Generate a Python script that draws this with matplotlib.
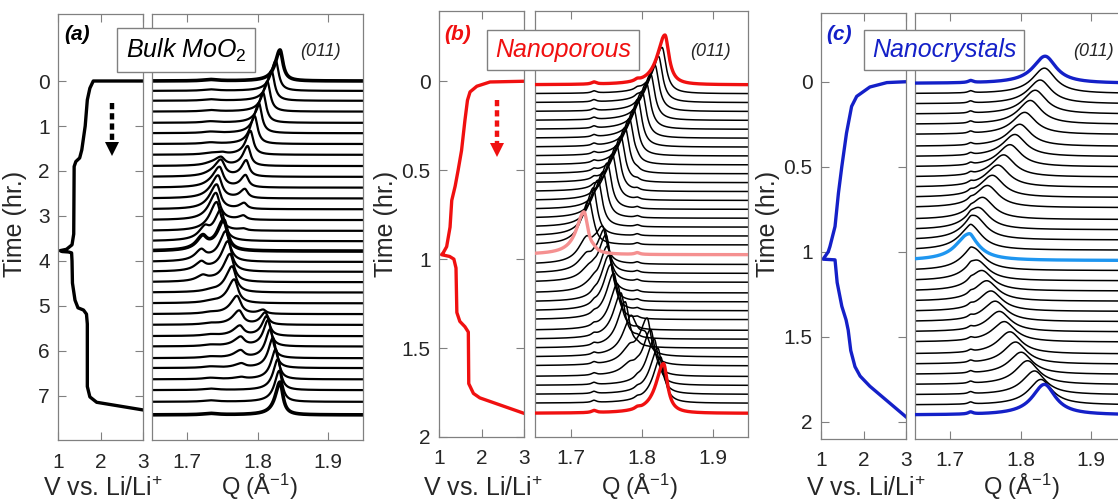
import numpy as np
import matplotlib.pyplot as plt

plt.rcParams['font.family'] = ['Liberation Sans', 'DejaVu Sans']
plt.rcParams['mathtext.fontset'] = 'custom'
plt.rcParams['mathtext.rm'] = 'Liberation Sans'
plt.rcParams['mathtext.it'] = 'Liberation Sans:italic'
plt.rcParams['mathtext.bf'] = 'Liberation Sans:bold'

# ---------------- data ----------------
# voltage profiles (V, time in hr)
va_v = [3.0, 1.83, 1.75, 1.69, 1.64, 1.56, 1.51, 1.42, 1.38, 1.37, 1.33, 1.20, 1.05, 1.10,
        1.25, 1.32, 1.33, 1.34, 1.40, 1.47, 1.60, 1.67, 1.69, 1.69, 1.75, 1.91, 3.0]
va_t = [0.0, 0.0, 0.16, 0.42, 1.0, 1.53, 1.71, 1.79, 1.9, 3.4, 3.64, 3.74, 3.77, 3.79,
        3.80, 3.82, 4.0, 4.49, 4.87, 5.04, 5.09, 5.18, 5.4, 6.79, 7.02, 7.14, 7.31]

vb_v = [3.0, 2.2, 1.89, 1.73, 1.67, 1.61, 1.53, 1.45, 1.38, 1.30, 1.26, 1.18, 1.10, 1.06,
        1.25, 1.35, 1.40, 1.42, 1.49, 1.61, 1.69, 1.70, 1.81, 1.96, 3.0]
vb_t = [0.0, 0.004, 0.028, 0.06, 0.107, 0.22, 0.39, 0.50, 0.59, 0.67, 0.82, 0.93, 0.964, 0.975,
        0.985, 1.0, 1.05, 1.30, 1.35, 1.38, 1.41, 1.70, 1.755, 1.78, 1.867]

vc_v = [3.0, 2.55, 2.15, 1.84, 1.72, 1.60, 1.49, 1.41, 1.33, 1.21, 1.17, 1.05, 1.33, 1.38,
        1.49, 1.59, 1.64, 1.70, 1.80, 1.92, 2.15, 3.0]
vc_t = [0.0, 0.005, 0.031, 0.086, 0.145, 0.302, 0.498, 0.655, 0.851, 0.969, 1.0, 1.043, 1.047, 1.18,
        1.32, 1.40, 1.46, 1.58, 1.675, 1.73, 1.79, 1.97]

# (a) bulk: scan times and (011) peak components (Q in 1/A, height in hr units)
times_a = [0.00, 0.22, 0.44, 0.68, 0.93, 1.16, 1.40, 1.64, 1.89, 2.13, 2.37, 2.61, 2.85, 3.09, 3.33, 3.56,
           3.78, 4.02, 4.24, 4.47, 4.70, 4.94, 5.18, 5.42, 5.67, 5.90, 6.16, 6.38, 6.63, 6.87, 7.13, 7.42]
qhi_a = [1.832, 1.826, 1.820, 1.814, 1.808, 1.802, 1.796, 1.790, 1.786, 1.784, 1.783, 1.782, 1.781, 1.780, 1.780, np.nan,
         np.nan, np.nan, np.nan, np.nan, np.nan, np.nan, 1.808, 1.811, 1.813, 1.815, 1.818, 1.822, 1.826, 1.829, 1.831, 1.832]
hhi_a = [0.69, 0.67, 0.67, 0.67, 0.67, 0.67, 0.62, 0.53, 0.44, 0.36, 0.27, 0.20, 0.13, 0.09, 0.04, 0,
         0, 0, 0, 0, 0, 0, 0.09, 0.27, 0.44, 0.58, 0.64, 0.67, 0.67, 0.69, 0.69, 0.73]
qmid_a = [np.nan] * 7 + [1.750, 1.748, 1.748, 1.746, 1.744, 1.742, 1.741, 1.742, 1.748,
                         1.752, 1.755, 1.758, 1.761, 1.764, 1.767, 1.771, 1.774, 1.775, 1.776, 1.776, 1.777, 1.777] + [np.nan] * 3
hmid_a = [0] * 7 + [0.04, 0.18, 0.36, 0.44, 0.49, 0.53, 0.58, 0.62, 0.67,
                    0.67, 0.67, 0.67, 0.62, 0.58, 0.53, 0.40, 0.31, 0.22, 0.20, 0.16, 0.09, 0.04] + [0] * 3
qlo_a = [np.nan] * 15 + [1.725, 1.722, 1.720, 1.720, 1.722] + [np.nan] * 12
hlo_a = [0] * 15 + [0.22, 0.27, 0.22, 0.18, 0.11] + [0] * 12

# (b) nanoporous
times_b = [0.02, 0.07, 0.12, 0.17, 0.22, 0.27, 0.32, 0.37, 0.42, 0.47, 0.52, 0.57, 0.62, 0.67, 0.72, 0.77,
           0.82, 0.87, 0.92, 0.975, 1.03, 1.08, 1.13, 1.19, 1.24, 1.29, 1.34, 1.40, 1.45, 1.50, 1.55, 1.60,
           1.66, 1.71, 1.76, 1.81, 1.867]
qmain_b = [1.833, 1.829, 1.824, 1.819, 1.813, 1.807, 1.801, 1.795, 1.789, 1.783, 1.777, 1.771, 1.765, 1.759,
           1.752, 1.746, 1.739, 1.732, 1.726, 1.719, 1.745, 1.748, 1.750, 1.752, 1.754, 1.757, 1.761, 1.766,
           1.771, 1.777, 1.805, 1.808, 1.813, 1.818, 1.823, 1.827, 1.831]
hmain_b = [0.28] + [0.26] * 17 + [0.25, 0.24, 0.20, 0.24] + [0.26] * 8 + [0.11] + [0.26] * 5 + [0.28]
qsec_b = [np.nan] * 20 + [1.722, 1.722, 1.725, 1.728] + [np.nan] * 6 + [1.785, 1.783, 1.783] + [np.nan] * 4
hsec_b = [0] * 20 + [0.11, 0.07, 0.045, 0.022] + [0] * 6 + [0.20, 0.07, 0.045] + [0] * 4

# (c) nanocrystals
times_c = [0.01, 0.07, 0.13, 0.19, 0.25, 0.31, 0.38, 0.44, 0.50, 0.56, 0.62, 0.68, 0.74, 0.81, 0.87, 0.93,
           0.99, 1.051, 1.11, 1.17, 1.23, 1.29, 1.35, 1.41, 1.47, 1.53, 1.60, 1.66, 1.72, 1.78, 1.84, 1.90, 1.959]
q_c = [1.835, 1.834, 1.828, 1.821, 1.814, 1.806, 1.799, 1.792, 1.785, 1.776, 1.768, 1.760, 1.753, 1.746,
       1.740, 1.735, 1.730, 1.725, 1.733, 1.738, 1.745, 1.752, 1.758, 1.764, 1.770, 1.777, 1.785, 1.793,
       1.801, 1.810, 1.820, 1.829, 1.834]
h_c = [0.16, 0.15, 0.14, 0.14, 0.14, 0.13, 0.13, 0.13, 0.13, 0.13, 0.13, 0.13, 0.13, 0.13, 0.13, 0.14, 0.14,
       0.15, 0.13, 0.12, 0.12, 0.12, 0.12, 0.12, 0.12, 0.12, 0.13, 0.13, 0.13, 0.14, 0.14, 0.15, 0.18]

# ---------------- figure ----------------
W, H = 1118, 504
fig = plt.figure(figsize=(W / 100, H / 100), dpi=100)
GRAY = '#808080'
TXT = '#262626'


def px_axes(l, t, r, b):
    return fig.add_axes([l / W, 1 - b / H, (r - l) / W, (b - t) / H])


def lor(q, c, h, w, left=1.0):
    # lorentzian, optionally wider on the low-Q side
    if h == 0 or np.isnan(c):
        return np.zeros_like(q)
    ww = np.where(q < c, w * left, w)
    return h / (1 + ((q - c) / ww) ** 2)


def style(ax):
    for s in ax.spines.values():
        s.set_color(GRAY)
        s.set_linewidth(0.9)
    ax.tick_params(direction='in', length=6, width=0.8, color=GRAY, labelcolor=TXT,
                   labelsize=15, top=True, right=True)
    ax.tick_params(axis='x', pad=9)
    ax.tick_params(axis='y', pad=6)


def volt_axes(box, v, t, color, ylim, yticks, ylabels):
    ax = px_axes(*box)
    ax.plot(v, t, color=color, lw=2.4, solid_joinstyle='round')
    ax.set_xlim(1, 3)
    ax.set_ylim(*ylim)
    ax.set_xticks([1, 2, 3])
    ax.set_xticklabels(['1', '2', '3'])
    ax.set_yticks(yticks)
    ax.set_yticklabels(ylabels)
    style(ax)
    return ax


def q_axes(box, ylim):
    ax = px_axes(*box)
    ax.set_xlim(1.65, 1.95)
    ax.set_ylim(*ylim)
    ax.set_xticks([1.7, 1.8, 1.9])
    ax.set_xticklabels(['1.7', '1.8', '1.9'])
    style(ax)
    ax.tick_params(axis='y', left=False, right=False, labelleft=False)
    return ax


q = np.linspace(1.65, 1.95, 900)

# ---- panel (a)
ax = volt_axes((58, 14, 143, 440), va_v, va_t, 'black', (7.978, -1.489), range(8),
               [str(i) for i in range(8)])
ax.plot([2.27, 2.27], [0.49, 1.42], color='black', lw=3.2, linestyle=(0, (1.4, 0.9)))
ax.plot([2.27], [1.50], marker='v', color='black', markersize=10, markeredgewidth=0)
ax = q_axes((152, 14, 363, 440), (7.978, -1.489))
for i, t in enumerate(times_a):
    y = (lor(q, qhi_a[i], hhi_a[i], 0.0050, 1.6) + lor(q, qmid_a[i], hmid_a[i], 0.0065, 1.7)
         + lor(q, qlo_a[i], hlo_a[i], 0.007, 1.5) + lor(q, 1.733, 0.03, 0.012))
    bold = i in (0, 16, len(times_a) - 1)
    ax.plot(q, t - y, color='black', lw=2.6 if bold else 1.6)

# ---- panel (b)
RED, PINK = '#f01010', '#f59090'
ax = volt_axes((439, 11, 524, 437), vb_v, vb_t, RED, (2.0, -0.395), [0, 0.5, 1, 1.5, 2],
               ['0', '0.5', '1', '1.5', '2'])
ax.plot([2.36, 2.36], [0.107, 0.36], color=RED, lw=3.2, linestyle=(0, (1.4, 0.9)))
ax.plot([2.36], [0.385], marker='v', color=RED, markersize=10, markeredgewidth=0)
ax = q_axes((535, 11, 748, 437), (2.0, -0.395))
for i, t in enumerate(times_b):
    y = (lor(q, qmain_b[i], hmain_b[i], 0.0068, 1.9) + lor(q, qsec_b[i], hsec_b[i], 0.009, 1.5)
         + lor(q, 1.733, 0.012, 0.004) + lor(q, 1.794, 0.01, 0.004))
    if i in (0, len(times_b) - 1):
        ax.plot(q, t - y, color=RED, lw=2.4, zorder=3)
    elif i == 19:
        ax.plot(q, t - y, color=PINK, lw=2.4, zorder=3)
    else:
        ax.plot(q, t - y, color='black', lw=1.1)

# ---- panel (c)
BLUE, LBLUE = '#1420c8', '#1e96f0'
ax = volt_axes((821, 13, 906, 439), vc_v, vc_t, BLUE, (2.1, -0.404), [0, 0.5, 1, 1.5, 2],
               ['0', '0.5', '1', '1.5', '2'])
ax = q_axes((915, 13, 1126, 439), (2.1, -0.404))
for i, t in enumerate(times_c):
    y = lor(q, q_c[i], h_c[i], 0.019, 1.1) + lor(q, 1.729, 0.012, 0.004)
    if i in (0, len(times_c) - 1):
        ax.plot(q, t - y, color=BLUE, lw=2.4, zorder=3)
    elif i == 17:
        ax.plot(q, t - y, color=LBLUE, lw=2.4, zorder=3)
    else:
        ax.plot(q, t - y, color='black', lw=1.1)


# ---- text annotations
def ftext(x, y, s, **kw):
    fig.text(x / W, 1 - y / H, s, ha='center', va='center', **kw)


box = dict(boxstyle='square,pad=0.33', fc='white', ec=GRAY, lw=1.0)
panels = [(77, 186, 320, 15, 103, 259, 'black', '(a)', 'Bulk MoO$_\\mathit{2}$'),
          (458, 563, 710, 386, 483, 639, RED, '(b)', 'Nanoporous'),
          (839, 944, 1093, 768, 866, 1021, BLUE, '(c)', 'Nanocrystals')]
for xl, xb, xo, xt, xv, xq, col, lab, name in panels:
    ftext(xl, 35, lab, color=col, fontsize=15, fontweight='bold', fontstyle='italic')
    ftext(xb, 50, name, color=col, fontsize=18, fontstyle='italic', bbox=box, zorder=5)
    ftext(xo, 52, '(011)', color=TXT, fontsize=13, fontstyle='italic')
    ftext(xt, 224, 'Time (hr.)', color=TXT, fontsize=18, rotation=90)
    ftext(xv, 489, 'V vs. Li/Li$^{+}$', color=TXT, fontsize=18)
    ftext(xq, 487, 'Q (Å$^{-1}$)', color=TXT, fontsize=17)

fig.savefig('out.png', dpi=100)
